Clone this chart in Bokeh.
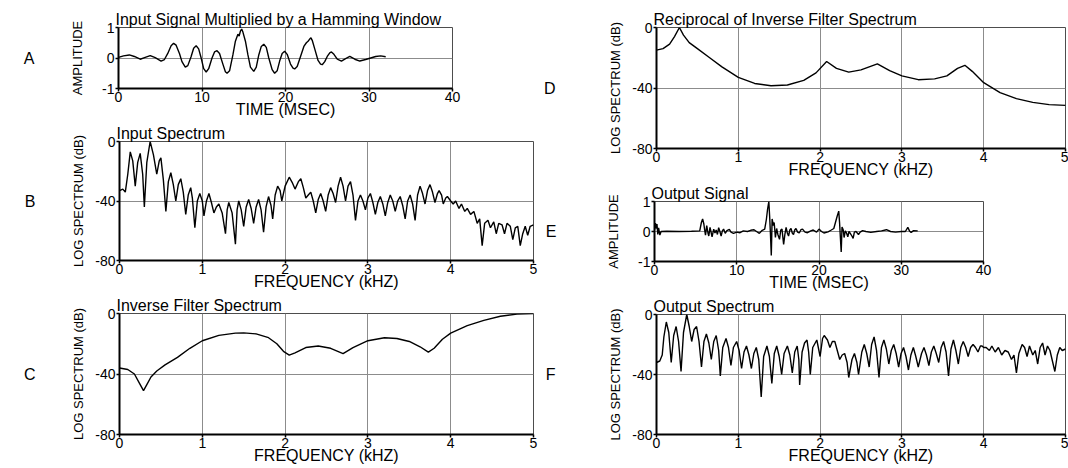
from bokeh.plotting import figure
from bokeh.models import Range1d, FixedTicker, LinearAxis, Spacer
from bokeh.layouts import row, column
from bokeh.embed import file_html
from bokeh.resources import INLINE

FONT = "Liberation Sans"

# ---------------- data ----------------
TIME_TICKS = [0, 10, 20, 30, 40]
AMP_TICKS = [-1, 0, 1]
FREQ_TICKS = [0, 1, 2, 3, 4, 5]
DB_TICKS = [-80, -40, 0]

# A: input signal multiplied by a Hamming window (ms, amplitude)
A_TIME = [0.0, 0.6, 1.3, 1.9, 2.6, 3.2, 3.8, 4.4, 5.1, 5.5,
          5.9, 6.3, 6.6, 6.9, 7.3, 7.6, 8.0, 8.3, 8.7, 9.0,
          9.3, 9.6, 9.9, 10.2, 10.5, 10.8, 11.2, 11.5, 11.8, 12.1,
          12.5, 12.8, 13.0, 13.3, 13.7, 14.0, 14.3, 14.45, 14.6, 14.75,
          14.9, 15.2, 15.5, 15.8, 16.2, 16.5, 16.8, 17.1, 17.4, 17.7,
          18.0, 18.4, 18.7, 19.0, 19.3, 19.6, 19.9, 20.2, 20.6, 20.9,
          21.1, 21.4, 21.8, 22.2, 22.5, 22.7, 22.9, 23.05, 23.2, 23.5,
          23.9, 24.2, 24.4, 24.7, 25.0, 25.3, 25.5, 25.8, 26.2, 26.7,
          27.2, 27.7, 28.3, 28.9, 29.6, 30.2, 30.8, 31.4, 32.0]
A_AMP = [0.02, 0.07, 0.1, 0.05, -0.04, 0.02, 0.08, 0.01, -0.1, -0.05,
         0.15, 0.4, 0.48, 0.42, 0.15, -0.12, -0.3, -0.25, 0.05, 0.32,
         0.4, 0.3, 0.0, -0.35, -0.46, -0.35, 0.0, 0.2, 0.24, 0.15,
         -0.2, -0.45, -0.5, -0.42, 0.1, 0.55, 0.78, 0.72, 0.88, 0.95,
         0.85, 0.55, 0.1, -0.3, -0.44, -0.3, 0.1, 0.38, 0.45, 0.35,
         0.0, -0.38, -0.5, -0.42, -0.1, 0.15, 0.22, 0.12, -0.2, -0.33,
         -0.36, -0.28, 0.05, 0.38, 0.5, 0.55, 0.62, 0.66, 0.58, 0.3,
         -0.08, -0.2, -0.22, -0.12, 0.05, 0.17, 0.2, 0.12, -0.04, -0.1,
         -0.02, 0.05, -0.04, -0.1, -0.05, 0.0, 0.05, 0.07, 0.04]

# B: input spectrum (kHz, dB)
B_FREQ = [0.00, 0.04, 0.07, 0.10, 0.13, 0.16, 0.19, 0.22, 0.25, 0.28,
          0.30, 0.33, 0.37, 0.41, 0.45, 0.48, 0.50, 0.53, 0.56, 0.59,
          0.62, 0.65, 0.68, 0.71, 0.74, 0.77, 0.80, 0.83, 0.86, 0.88,
          0.91, 0.94, 0.97, 1.00, 1.02, 1.05, 1.08, 1.11, 1.14, 1.17,
          1.20, 1.24, 1.28, 1.30, 1.32, 1.36, 1.40, 1.42, 1.44, 1.47,
          1.50, 1.53, 1.56, 1.59, 1.62, 1.65, 1.68, 1.71, 1.74, 1.77,
          1.80, 1.83, 1.85, 1.88, 1.91, 1.94, 1.96, 2.00, 2.05, 2.09,
          2.12, 2.16, 2.19, 2.22, 2.25, 2.28, 2.31, 2.34, 2.37, 2.40,
          2.43, 2.46, 2.49, 2.52, 2.55, 2.58, 2.61, 2.64, 2.67, 2.70,
          2.73, 2.76, 2.79, 2.82, 2.85, 2.88, 2.91, 2.94, 2.97, 3.00,
          3.03, 3.06, 3.09, 3.12, 3.15, 3.18, 3.21, 3.24, 3.27, 3.30,
          3.33, 3.36, 3.39, 3.42, 3.45, 3.48, 3.51, 3.54, 3.57, 3.60,
          3.63, 3.66, 3.69, 3.72, 3.75, 3.78, 3.81, 3.84, 3.86, 3.89,
          3.91, 3.94, 3.96, 4.00, 4.03, 4.06, 4.10, 4.13, 4.17, 4.20,
          4.24, 4.28, 4.32, 4.35, 4.38, 4.41, 4.45, 4.48, 4.52, 4.55,
          4.58, 4.62, 4.65, 4.68, 4.72, 4.75, 4.78, 4.81, 4.84, 4.87,
          4.90, 4.93, 4.96, 5.00]
B_DB = [-33, -32, -34, -22, -7, -13, -30, -14, -8, -22,
        -44, -14, 0, -9, -22, -13, -11, -26, -47, -27,
        -21, -29, -40, -29, -25, -34, -49, -36, -31, -38,
        -58, -40, -35, -40, -50, -40, -35, -41, -48, -44,
        -42, -48, -62, -46, -41, -48, -69, -46, -40, -46,
        -57, -44, -39, -45, -55, -44, -39, -46, -61, -44,
        -37, -43, -52, -36, -30, -33, -40, -30, -24, -28,
        -32, -27, -25, -31, -38, -36, -34, -40, -48, -39,
        -35, -40, -47, -36, -31, -35, -41, -30, -24, -30,
        -40, -30, -27, -36, -53, -40, -36, -40, -46, -38,
        -35, -41, -49, -41, -37, -42, -50, -41, -36, -40,
        -47, -40, -37, -43, -52, -40, -36, -42, -53, -36,
        -30, -35, -42, -33, -29, -34, -41, -35, -33, -36,
        -42, -38, -37, -40, -42, -40, -45, -42, -47, -45,
        -49, -47, -55, -52, -70, -55, -53, -58, -54, -62,
        -55, -56, -62, -55, -57, -66, -58, -57, -70, -62,
        -57, -63, -57, -56]

# C: inverse filter spectrum (kHz, dB)
C_FREQ = [0.0, 0.1, 0.18, 0.24, 0.29, 0.33, 0.38, 0.45, 0.55, 0.7,
          0.85, 1.0, 1.2, 1.4, 1.5, 1.65, 1.8, 1.9, 1.98, 2.05,
          2.12, 2.25, 2.4, 2.55, 2.7, 2.82, 3.0, 3.2, 3.35, 3.5,
          3.63, 3.73, 3.8, 3.9, 4.0, 4.2, 4.4, 4.6, 4.8, 5.0]
C_DB = [-36, -37, -40, -46, -51, -47, -42, -38, -34, -29,
        -23, -18, -14.5, -13, -12.8, -13.5, -16, -20, -25, -27.5,
        -26, -22.5, -21.5, -23, -26.5, -22.5, -18, -16, -16.5, -18.5,
        -22, -25.5, -23, -17, -13, -8, -4.5, -1.8, -0.4, 0]

# D: reciprocal of inverse filter spectrum (kHz, dB)
D_FREQ = [0.0, 0.08, 0.16, 0.22, 0.28, 0.33, 0.4, 0.5, 0.65, 0.8,
          1.0, 1.2, 1.4, 1.6, 1.8, 1.95, 2.08, 2.2, 2.35, 2.5,
          2.7, 2.85, 3.0, 3.2, 3.4, 3.55, 3.68, 3.77, 3.86, 4.0,
          4.2, 4.4, 4.6, 4.8, 5.0]
D_DB = [-15, -14, -11, -6, 0, -5, -10, -14, -20, -26,
        -33, -37, -38.5, -38, -35, -30, -22.5, -27, -29.5, -28,
        -24, -28.5, -32, -34.5, -34, -32, -27, -25, -29, -36.5,
        -43, -47, -49.5, -51, -51.5]

# E: output signal (ms, amplitude)
E_TIME = [0.0, 0.1, 0.2, 0.3, 0.4, 0.5, 0.65, 0.8, 1.5, 3.0,
          4.5, 5.5, 5.7, 5.85, 6.0, 6.1, 6.2, 6.35, 6.5, 6.6,
          6.75, 6.9, 7.0, 7.2, 7.35, 7.5, 7.65, 7.8, 7.95, 8.1,
          8.25, 8.4, 8.6, 8.8, 9.1, 9.3, 9.6, 10.0, 10.4, 10.8,
          11.3, 11.7, 12.1, 12.4, 12.75, 13.1, 13.4, 13.6, 13.75, 13.9,
          14.0, 14.1, 14.2, 14.3, 14.45, 14.55, 14.7, 14.85, 15.0, 15.2,
          15.35, 15.5, 15.7, 15.85, 16.0, 16.15, 16.3, 16.45, 16.6, 16.75,
          16.9, 17.05, 17.2, 17.4, 17.6, 17.8, 18.0, 18.3, 18.6, 19.0,
          19.3, 19.7, 20.0, 20.3, 20.6, 21.1, 21.5, 21.8, 22.0, 22.2,
          22.4, 22.5, 22.6, 22.7, 22.8, 22.95, 23.05, 23.2, 23.35, 23.5,
          23.65, 23.8, 24.0, 24.15, 24.3, 24.5, 24.8, 25.0, 25.3, 25.7,
          26.3, 27.0, 27.6, 28.2, 28.7, 29.3, 30.0, 30.5, 30.8, 31.0,
          31.2, 31.5, 32.0]
E_AMP = [0.05, 0.28, 0.1, 0.25, -0.1, 0.12, -0.12, 0.0, 0.01, 0.0,
         0.01, 0.02, 0.3, 0.42, 0.25, 0.05, -0.12, 0.2, -0.05, -0.15,
         0.14, -0.05, -0.18, 0.08, -0.05, 0.05, -0.1, 0.13, 0.0, -0.15,
         0.02, 0.08, -0.06, 0.03, 0.07, -0.02, -0.06, -0.02, -0.04, 0.02,
         0.0, 0.04, 0.06, 0.0, -0.06, 0.04, 0.08, 0.4, 0.75, 1.0,
         0.5, -0.1, -0.8, 0.42, 0.2, 0.3, -0.2, 0.1, -0.1, -0.26,
         0.05, 0.08, -0.43, -0.1, 0.14, -0.05, -0.15, 0.05, 0.1, -0.05,
         -0.1, 0.05, 0.1, -0.02, -0.05, 0.06, 0.08, -0.02, -0.04, 0.02,
         0.05, -0.02, 0.08, 0.0, -0.05, -0.01, 0.05, 0.1, 0.3, 0.5,
         0.68, 0.3, -0.2, -0.68, 0.15, 0.05, -0.2, 0.02, -0.05, -0.18,
         0.0, -0.06, -0.15, -0.23, -0.02, 0.0, -0.1, -0.02, 0.03, 0.0,
         -0.03, 0.0, 0.02, 0.06, 0.0, -0.02, 0.0, 0.0, 0.14, 0.02,
         -0.03, 0.03, 0.02]

# F: output spectrum (kHz, dB)
F_FREQ = [0.00, 0.04, 0.07, 0.09, 0.12, 0.15, 0.18, 0.21, 0.24, 0.27,
          0.30, 0.33, 0.37, 0.40, 0.43, 0.46, 0.49, 0.52, 0.55, 0.58,
          0.61, 0.64, 0.67, 0.70, 0.73, 0.76, 0.78, 0.81, 0.85, 0.88,
          0.91, 0.94, 0.98, 1.01, 1.04, 1.07, 1.10, 1.13, 1.16, 1.19,
          1.22, 1.25, 1.28, 1.31, 1.35, 1.38, 1.41, 1.44, 1.47, 1.50,
          1.53, 1.56, 1.60, 1.63, 1.66, 1.69, 1.72, 1.74, 1.75, 1.78,
          1.81, 1.84, 1.86, 1.88, 1.91, 1.96, 2.00, 2.03, 2.05, 2.09,
          2.12, 2.15, 2.18, 2.21, 2.24, 2.27, 2.30, 2.33, 2.35, 2.39,
          2.42, 2.45, 2.47, 2.51, 2.54, 2.57, 2.60, 2.63, 2.66, 2.69,
          2.72, 2.75, 2.78, 2.81, 2.84, 2.87, 2.90, 2.93, 2.96, 2.99,
          3.02, 3.05, 3.08, 3.11, 3.14, 3.17, 3.20, 3.24, 3.27, 3.30,
          3.33, 3.36, 3.39, 3.42, 3.45, 3.48, 3.51, 3.54, 3.57, 3.60,
          3.63, 3.66, 3.69, 3.72, 3.75, 3.78, 3.81, 3.84, 3.87, 3.90,
          3.93, 3.96, 3.98, 4.00, 4.03, 4.07, 4.10, 4.14, 4.18, 4.22,
          4.26, 4.30, 4.34, 4.37, 4.40, 4.43, 4.47, 4.50, 4.53, 4.56,
          4.60, 4.63, 4.66, 4.69, 4.72, 4.75, 4.78, 4.81, 4.84, 4.87,
          4.90, 4.93, 4.96, 5.00]
F_DB = [-32, -31, -27, -15, -5, -12, -32, -14, -8, -18,
        -38, -12, 0, -8, -18, -10, -8, -18, -35, -18,
        -13, -19, -30, -18, -14, -24, -41, -22, -16, -22,
        -34, -22, -18, -24, -36, -25, -21, -27, -36, -26,
        -22, -30, -55, -28, -21, -28, -46, -26, -21, -28,
        -40, -26, -21, -27, -39, -25, -21, -30, -47, -25,
        -19, -17, -25, -40, -22, -17, -28, -16, -14, -17,
        -22, -18, -18, -24, -30, -27, -26, -32, -42, -30,
        -26, -32, -40, -25, -20, -26, -35, -20, -15, -24,
        -42, -22, -17, -23, -33, -24, -20, -26, -35, -26,
        -22, -28, -37, -27, -22, -28, -35, -26, -22, -27,
        -34, -25, -21, -26, -32, -22, -18, -25, -41, -23,
        -17, -24, -33, -22, -18, -22, -28, -22, -20, -22,
        -25, -21, -21, -22, -22, -24, -21, -25, -22, -27,
        -24, -25, -30, -27, -39, -26, -20, -22, -28, -21,
        -27, -24, -33, -22, -19, -27, -21, -24, -31, -38,
        -27, -22, -24, -23]


def make_panel(title, xr, yr, xticks, yticks, xlab, ylab, w, h, bl, br, bt, bb,
               ystand, letter, letter_stand):
    p = figure(width=w, height=h, x_range=Range1d(*xr), y_range=Range1d(*yr),
               output_backend="svg", toolbar_location=None, tools="",
               min_border_left=bl, min_border_right=br,
               min_border_top=bt, min_border_bottom=bb)
    p.title.text = title
    p.title.align = "left"
    p.title.text_font = FONT
    p.title.text_font_size = "16px"
    p.title.text_font_style = "normal"
    p.title.text_color = "black"
    p.title.standoff = 0
    p.title.offset = -3
    p.background_fill_color = "white"
    p.border_fill_color = "white"
    p.outline_line_color = "#4d4d4d"
    p.outline_line_width = 1
    for ax, ticks, lab in ((p.xaxis[0], xticks, xlab), (p.yaxis[0], yticks, ylab)):
        ax.ticker = FixedTicker(ticks=ticks)
        ax.axis_label = lab
        ax.axis_label_text_font = FONT
        ax.axis_label_text_font_style = "normal"
        ax.axis_label_text_color = "black"
        ax.major_label_text_font = FONT
        ax.major_label_text_font_size = "14px"
        ax.major_label_text_color = "black"
        ax.axis_line_color = "black"
        ax.axis_line_width = 2
        ax.major_tick_line_color = "black"
        ax.major_tick_line_width = 1.5
        ax.major_tick_out = 3
        ax.major_tick_in = 0
        ax.minor_tick_line_color = None
        ax.major_label_standoff = 1
        ax.major_label_overrides = {t: str(t) for t in ticks}
    p.xaxis.major_label_standoff = 0
    p.xaxis.axis_label_text_font_size = "16px"
    p.xaxis.axis_label_standoff = -4
    p.yaxis.axis_label_text_font_size = "13px"
    p.yaxis.axis_label_standoff = ystand
    p.xgrid.ticker = FixedTicker(ticks=xticks)
    p.ygrid.ticker = FixedTicker(ticks=yticks)
    for g in (p.xgrid[0], p.ygrid[0]):
        g.grid_line_color = "#8c8c8c"
        g.grid_line_width = 1
    # panel letter, drawn as the label of an extra, otherwise empty axis
    lax = LinearAxis(ticker=FixedTicker(ticks=[]), axis_label=letter,
                     axis_line_color=None, major_tick_line_color=None,
                     minor_tick_line_color=None,
                     axis_label_text_font=FONT, axis_label_text_font_size="16px",
                     axis_label_text_font_style="normal", axis_label_text_color="black",
                     axis_label_orientation="horizontal",
                     axis_label_standoff=letter_stand)
    p.add_layout(lax, "left")
    return p


LW = 1.4

fa = make_panel("Input Signal Multiplied by a Hamming Window", (0, 40), (-1, 1),
                TIME_TICKS, AMP_TICKS, "TIME (MSEC)", "AMPLITUDE",
                462, 122, 118, 10, 27, 34, 14, "A", 33)
fa.line(A_TIME, A_AMP, color="black", line_width=LW)

fb = make_panel("Input Spectrum", (0, 5), (-80, 0),
                FREQ_TICKS, DB_TICKS, "FREQUENCY (kHZ)", "LOG SPECTRUM (dB)",
                540, 172, 119, 7, 17, 34, 6, "B", 33)
fb.line(B_FREQ, B_DB, color="black", line_width=LW)

fc = make_panel("Inverse Filter Spectrum", (0, 5), (-80, 0),
                FREQ_TICKS, DB_TICKS, "FREQUENCY (kHZ)", "LOG SPECTRUM (dB)",
                540, 174, 119, 7, 18, 34, 6, "C", 33)
fc.line(C_FREQ, C_DB, color="black", line_width=LW)

fd = make_panel("Reciprocal of Inverse Filter Spectrum", (0, 5), (-80, 0),
                FREQ_TICKS, DB_TICKS, "FREQUENCY (kHZ)", "LOG SPECTRUM (dB)",
                528, 182, 114, 3, 27, 34, 6, "D", 50)
fd.line(D_FREQ, D_DB, color="black", line_width=LW)

fe = make_panel("Output Signal", (0, 40), (-1, 1),
                TIME_TICKS, AMP_TICKS, "TIME (MSEC)", "AMPLITUDE",
                453, 113, 114, 10, 18, 34, 14, "E", 47)
fe.line(E_TIME, E_AMP, color="black", line_width=LW)

ff = make_panel("Output Spectrum", (0, 5), (-80, 0),
                FREQ_TICKS, DB_TICKS, "FREQUENCY (kHZ)", "LOG SPECTRUM (dB)",
                528, 173, 114, 3, 17, 34, 6, "F", 50)
ff.line(F_FREQ, F_DB, color="black", line_width=LW)

left = column(row(fa, Spacer(width=78, height=122)), fb, fc)
right = column(fd, row(fe, Spacer(width=75, height=113)), ff)
layout = row(left, right)

open("out.html", "w").write(file_html(layout, INLINE, title="Inverse filtering"))
